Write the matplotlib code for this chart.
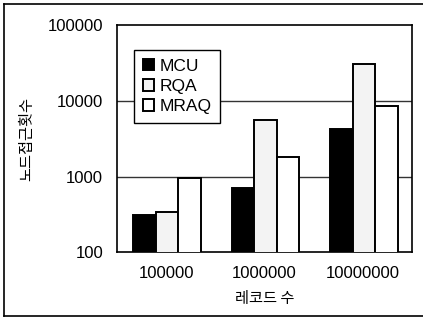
import matplotlib
matplotlib.use("Agg")
import matplotlib.pyplot as plt
import numpy as np
from matplotlib.lines import Line2D

plt.rcParams['font.family'] = ['Liberation Sans', 'Noto Sans CJK KR', 'DejaVu Sans']

categories = ['100000', '1000000', '10000000']
series_names = ['MCU', 'RQA', 'MRAQ']
mcu = [310, 705, 4280]
rqa = [340, 5630, 30600]
mraq = [955, 1840, 8610]
yticks = [100, 1000, 10000, 100000]
ytick_labels = ['100', '1000', '10000', '100000']

fig = plt.figure(figsize=(4.23, 3.20), dpi=100)
ax = fig.add_axes([0.2766, 0.211, 0.6974, 0.711])

x = np.arange(len(categories))
w = 0.23
colors = ['black', '#f3f3f3', 'white']
for i, (vals, name, c) in enumerate(zip([mcu, rqa, mraq], series_names, colors)):
    ax.bar(x + (i - 1) * w + 0.01, vals, width=w, bottom=0, facecolor=c,
           edgecolor='black', linewidth=1.4, label=name, zorder=3)

ax.set_yscale('log')
ax.set_ylim(100, 100000)
ax.set_xlim(-0.5, 2.5)
ax.set_yticks(yticks)
ax.set_yticklabels(ytick_labels)
ax.yaxis.set_minor_locator(matplotlib.ticker.NullLocator())
ax.set_xticks(x)
ax.set_xticklabels(categories)
ax.tick_params(axis='both', length=0, labelsize=12)
ax.tick_params(axis='y', pad=10)
ax.tick_params(axis='x', pad=10)
for yv in [1000, 10000]:
    ax.axhline(yv, color='#333333', linewidth=1.0, zorder=1)
for s in ax.spines.values():
    s.set_linewidth(1.2)

ax.set_ylabel('노드접근횟수', fontsize=11, family=['Noto Sans CJK KR', 'DejaVu Sans'], labelpad=9)
ax.set_xlabel('레코드 수', fontsize=11, family=['Noto Sans CJK KR', 'DejaVu Sans'], labelpad=6)

leg = ax.legend(loc='upper left', bbox_to_anchor=(0.058, 0.89), fontsize=12.5,
                frameon=True, fancybox=False, edgecolor='black', framealpha=1,
                handlelength=0.65, handleheight=0.65, handletextpad=0.3,
                labelspacing=0.3, borderpad=0.5, borderaxespad=0)
leg.get_frame().set_linewidth(1.0)
leg.set_zorder(5)

# outer frame
for (xs, ys) in [([0.01, 0.01], [0.012, 0.988]), ([0.01, 1.0], [0.988, 0.988]), ([0.01, 1.0], [0.012, 0.012])]:
    fig.add_artist(Line2D(xs, ys, color='black', linewidth=1.2, transform=fig.transFigure))

fig.savefig('out.png', dpi=100)
